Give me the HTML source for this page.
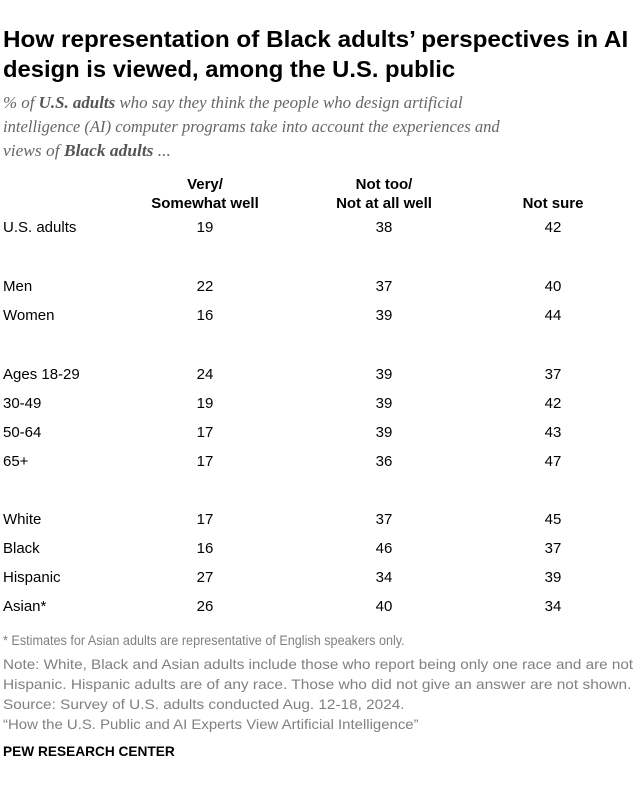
<!DOCTYPE html>
<html><head><meta charset="utf-8">
<style>
body{margin:0;background:#fff;}
#c{position:relative;width:640px;height:792px;overflow:hidden;font-family:"Liberation Sans",sans-serif;}
.t{position:absolute;white-space:nowrap;transform-origin:0 0;}
.title{font-weight:bold;font-size:23px;color:#000;}
.sub{font-family:"Liberation Serif",serif;font-style:italic;font-size:17px;color:#666;}
.sub b{color:#555;}
.hd{font-weight:bold;font-size:15px;color:#000;text-align:center;}
.rl{font-size:15px;color:#000;}
.v{font-size:15px;color:#000;text-align:center;width:60px;}
.fn{font-size:14px;color:#808080;}
.pew{font-weight:bold;font-size:14px;color:#000;}
</style></head><body>
<div id="c">
<div class="t title fit" data-w="625" style="left:3px;top:26px">How representation of Black adults’ perspectives in AI</div>
<div class="t title fit" data-w="452" style="left:3px;top:56px">design is viewed, among the U.S. public</div>
<div class="t sub fit" data-w="460" style="left:3px;top:93px">% of <b>U.S. adults</b> who say they think the people who design artificial</div>
<div class="t sub fit" data-w="497" style="left:3px;top:117px">intelligence (AI) computer programs take into account the experiences and</div>
<div class="t sub fit" data-w="168" style="left:3px;top:141px">views of <b>Black adults</b> ...</div>
<div class="t hd" style="left:125px;top:175px;width:160px;line-height:19px">Very/<br>Somewhat well</div>
<div class="t hd" style="left:304px;top:175px;width:160px;line-height:19px">Not too/<br>Not at all well</div>
<div class="t hd" style="left:473px;top:194px;width:160px;line-height:19px">Not sure</div>
<div id="rows"></div>
<div class="t fn fit" data-w="402" style="left:3px;top:632px">* Estimates for Asian adults are representative of English speakers only.</div>
<div class="t fn fit" data-w="630" style="left:3px;top:656px">Note: White, Black and Asian adults include those who report being only one race and are not</div>
<div class="t fn fit" data-w="628" style="left:3px;top:676px">Hispanic. Hispanic adults are of any race. Those who did not give an answer are not shown.</div>
<div class="t fn fit" data-w="402" style="left:3px;top:696px">Source: Survey of U.S. adults conducted Aug. 12-18, 2024.</div>
<div class="t fn fit" data-w="416" style="left:3px;top:716px">“How the U.S. Public and AI Experts View Artificial Intelligence”</div>
<div class="t pew fit" data-w="172" style="left:3px;top:743px">PEW RESEARCH CENTER</div>
</div>
<script>
const categories=["U.S. adults","Men","Women","Ages 18-29","30-49","50-64","65+","White","Black","Hispanic","Asian*"];
const rowY=[228,287,316,375,404,433,462,520,549,578,607];
const verySomewhat=[19,22,16,24,19,17,17,17,16,27,26];
const notTooNotAtAll=[38,37,39,39,39,39,36,37,46,34,40];
const notSure=[42,40,44,37,42,43,47,45,37,39,34];
const colX=[205,384,553];
const rows=document.getElementById('rows');
function mk(cls,txt,left,top){const d=document.createElement('div');d.className='t '+cls;d.textContent=txt;d.style.left=left+'px';d.style.top=(top-9)+'px';rows.appendChild(d);return d;}
categories.forEach((c,i)=>{
  const l=mk('rl',c,3,rowY[i]);
  
  
  [verySomewhat,notTooNotAtAll,notSure].forEach((s,j)=>{
    const v=mk('v',String(s[i]),colX[j]-30,rowY[i]);
    
    
  });
});
document.querySelectorAll('.fit').forEach(e=>{const w=+e.dataset.w;const a=e.offsetWidth;if(a>0)e.style.transform='scaleX('+(w/a)+')';});
</script>
</body></html>
